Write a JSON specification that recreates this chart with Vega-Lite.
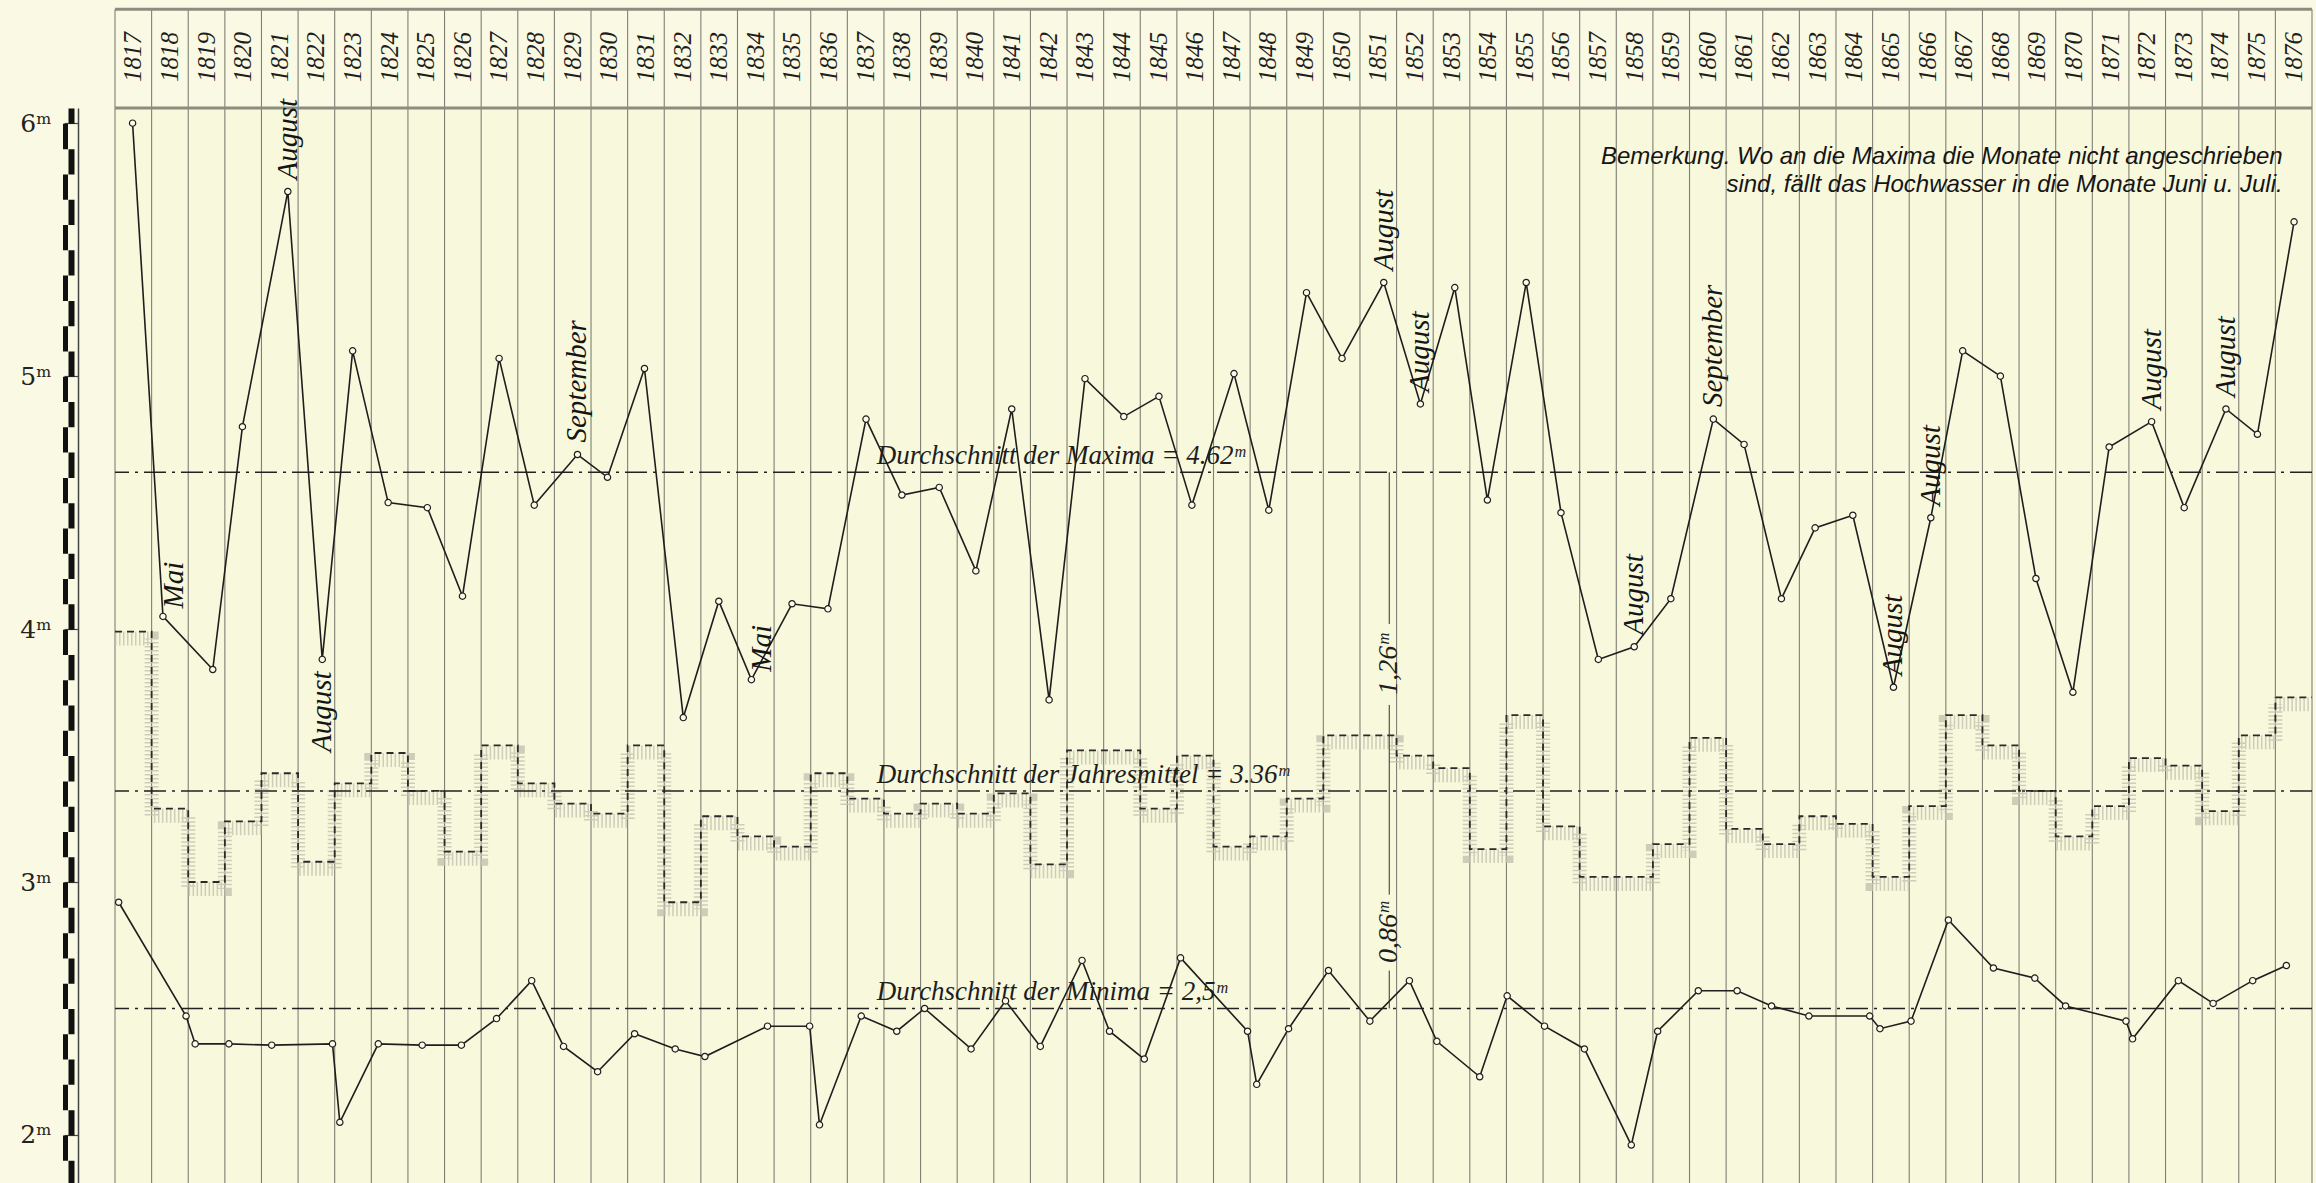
{
  "$schema": "https://vega.github.io/schema/vega-lite/v6.json",
  "description": "Wasserstände 1817-1876: Maxima, Jahresmittel und Minima",
  "width": 2197,
  "height": 1075,
  "autosize": {"type": "none"},
  "padding": {"left": 115, "top": 108, "right": 4, "bottom": 0},
  "background": "#fafae4",
  "config": {
    "view": {"stroke": null, "fill": "#f8f8dc"},
    "font": "Liberation Serif"
  },
  "datasets": {
    "maxima": [
      {"jahr": 1817, "zeit": 1817.48, "max": 6.00},
      {"jahr": 1818, "zeit": 1818.31, "max": 4.05, "monat": "Mai"},
      {"jahr": 1819, "zeit": 1819.67, "max": 3.84},
      {"jahr": 1820, "zeit": 1820.48, "max": 4.80},
      {"jahr": 1821, "zeit": 1821.72, "max": 5.73, "monat": "August"},
      {"jahr": 1822, "zeit": 1822.66, "max": 3.88, "monat": "August"},
      {"jahr": 1823, "zeit": 1823.49, "max": 5.10},
      {"jahr": 1824, "zeit": 1824.46, "max": 4.50},
      {"jahr": 1825, "zeit": 1825.53, "max": 4.48},
      {"jahr": 1826, "zeit": 1826.49, "max": 4.13},
      {"jahr": 1827, "zeit": 1827.49, "max": 5.07},
      {"jahr": 1828, "zeit": 1828.45, "max": 4.49},
      {"jahr": 1829, "zeit": 1829.63, "max": 4.69, "monat": "September"},
      {"jahr": 1830, "zeit": 1830.45, "max": 4.60},
      {"jahr": 1831, "zeit": 1831.46, "max": 5.03},
      {"jahr": 1832, "zeit": 1832.52, "max": 3.65},
      {"jahr": 1833, "zeit": 1833.49, "max": 4.11},
      {"jahr": 1834, "zeit": 1834.38, "max": 3.80, "monat": "Mai"},
      {"jahr": 1835, "zeit": 1835.49, "max": 4.10},
      {"jahr": 1836, "zeit": 1836.47, "max": 4.08},
      {"jahr": 1837, "zeit": 1837.51, "max": 4.83},
      {"jahr": 1838, "zeit": 1838.49, "max": 4.53},
      {"jahr": 1839, "zeit": 1839.51, "max": 4.56},
      {"jahr": 1840, "zeit": 1840.51, "max": 4.23},
      {"jahr": 1841, "zeit": 1841.49, "max": 4.87},
      {"jahr": 1842, "zeit": 1842.51, "max": 3.72},
      {"jahr": 1843, "zeit": 1843.49, "max": 4.99},
      {"jahr": 1844, "zeit": 1844.55, "max": 4.84},
      {"jahr": 1845, "zeit": 1845.51, "max": 4.92},
      {"jahr": 1846, "zeit": 1846.41, "max": 4.49},
      {"jahr": 1847, "zeit": 1847.56, "max": 5.01},
      {"jahr": 1848, "zeit": 1848.51, "max": 4.47},
      {"jahr": 1849, "zeit": 1849.54, "max": 5.33},
      {"jahr": 1850, "zeit": 1850.51, "max": 5.07},
      {"jahr": 1851, "zeit": 1851.65, "max": 5.37, "monat": "August"},
      {"jahr": 1852, "zeit": 1852.65, "max": 4.89, "monat": "August"},
      {"jahr": 1853, "zeit": 1853.59, "max": 5.35},
      {"jahr": 1854, "zeit": 1854.48, "max": 4.51},
      {"jahr": 1855, "zeit": 1855.54, "max": 5.37},
      {"jahr": 1856, "zeit": 1856.49, "max": 4.46},
      {"jahr": 1857, "zeit": 1857.51, "max": 3.88},
      {"jahr": 1858, "zeit": 1858.49, "max": 3.93, "monat": "August"},
      {"jahr": 1859, "zeit": 1859.49, "max": 4.12},
      {"jahr": 1860, "zeit": 1860.65, "max": 4.83, "monat": "September"},
      {"jahr": 1861, "zeit": 1861.49, "max": 4.73},
      {"jahr": 1862, "zeit": 1862.51, "max": 4.12},
      {"jahr": 1863, "zeit": 1863.43, "max": 4.40},
      {"jahr": 1864, "zeit": 1864.46, "max": 4.45},
      {"jahr": 1865, "zeit": 1865.57, "max": 3.77, "monat": "August"},
      {"jahr": 1866, "zeit": 1866.59, "max": 4.44, "monat": "August"},
      {"jahr": 1867, "zeit": 1867.46, "max": 5.10},
      {"jahr": 1868, "zeit": 1868.49, "max": 5.00},
      {"jahr": 1869, "zeit": 1869.46, "max": 4.20},
      {"jahr": 1870, "zeit": 1870.47, "max": 3.75},
      {"jahr": 1871, "zeit": 1871.46, "max": 4.72},
      {"jahr": 1872, "zeit": 1872.62, "max": 4.82, "monat": "August"},
      {"jahr": 1873, "zeit": 1873.51, "max": 4.48},
      {"jahr": 1874, "zeit": 1874.65, "max": 4.87, "monat": "August"},
      {"jahr": 1875, "zeit": 1875.51, "max": 4.77},
      {"jahr": 1876, "zeit": 1876.51, "max": 5.61}
    ],
    "minima": [
      {"jahr": 1817, "zeit": 1817.10, "min": 2.92},
      {"jahr": 1818, "zeit": 1818.94, "min": 2.47},
      {"jahr": 1819, "zeit": 1819.19, "min": 2.36},
      {"jahr": 1820, "zeit": 1820.11, "min": 2.36},
      {"jahr": 1821, "zeit": 1821.28, "min": 2.355},
      {"jahr": 1822, "zeit": 1822.94, "min": 2.36},
      {"jahr": 1823, "zeit": 1823.14, "min": 2.05},
      {"jahr": 1824, "zeit": 1824.19, "min": 2.36},
      {"jahr": 1825, "zeit": 1825.39, "min": 2.355},
      {"jahr": 1826, "zeit": 1826.46, "min": 2.355},
      {"jahr": 1827, "zeit": 1827.42, "min": 2.46},
      {"jahr": 1828, "zeit": 1828.38, "min": 2.61},
      {"jahr": 1829, "zeit": 1829.25, "min": 2.35},
      {"jahr": 1830, "zeit": 1830.18, "min": 2.25},
      {"jahr": 1831, "zeit": 1831.19, "min": 2.40},
      {"jahr": 1832, "zeit": 1832.30, "min": 2.34},
      {"jahr": 1833, "zeit": 1833.11, "min": 2.31},
      {"jahr": 1834, "zeit": 1834.82, "min": 2.43},
      {"jahr": 1835, "zeit": 1835.97, "min": 2.43},
      {"jahr": 1836, "zeit": 1836.24, "min": 2.04},
      {"jahr": 1837, "zeit": 1837.38, "min": 2.47},
      {"jahr": 1838, "zeit": 1838.35, "min": 2.41},
      {"jahr": 1839, "zeit": 1839.11, "min": 2.50},
      {"jahr": 1840, "zeit": 1840.38, "min": 2.34},
      {"jahr": 1841, "zeit": 1841.32, "min": 2.53},
      {"jahr": 1842, "zeit": 1842.27, "min": 2.35},
      {"jahr": 1843, "zeit": 1843.41, "min": 2.69},
      {"jahr": 1844, "zeit": 1844.16, "min": 2.41},
      {"jahr": 1845, "zeit": 1845.11, "min": 2.30},
      {"jahr": 1846, "zeit": 1846.10, "min": 2.70},
      {"jahr": 1847, "zeit": 1847.93, "min": 2.41},
      {"jahr": 1848, "zeit": 1848.18, "min": 2.20},
      {"jahr": 1849, "zeit": 1849.05, "min": 2.42},
      {"jahr": 1850, "zeit": 1850.14, "min": 2.65},
      {"jahr": 1851, "zeit": 1851.27, "min": 2.45},
      {"jahr": 1852, "zeit": 1852.35, "min": 2.61},
      {"jahr": 1853, "zeit": 1853.10, "min": 2.37},
      {"jahr": 1854, "zeit": 1854.27, "min": 2.23},
      {"jahr": 1855, "zeit": 1855.02, "min": 2.55},
      {"jahr": 1856, "zeit": 1856.04, "min": 2.43},
      {"jahr": 1857, "zeit": 1857.13, "min": 2.34},
      {"jahr": 1858, "zeit": 1858.41, "min": 1.96},
      {"jahr": 1859, "zeit": 1859.13, "min": 2.41},
      {"jahr": 1860, "zeit": 1860.24, "min": 2.57},
      {"jahr": 1861, "zeit": 1861.30, "min": 2.57},
      {"jahr": 1862, "zeit": 1862.24, "min": 2.51},
      {"jahr": 1863, "zeit": 1863.26, "min": 2.47},
      {"jahr": 1864, "zeit": 1864.92, "min": 2.47},
      {"jahr": 1865, "zeit": 1865.20, "min": 2.42},
      {"jahr": 1866, "zeit": 1866.05, "min": 2.45},
      {"jahr": 1867, "zeit": 1867.07, "min": 2.85},
      {"jahr": 1868, "zeit": 1868.30, "min": 2.66},
      {"jahr": 1869, "zeit": 1869.43, "min": 2.62},
      {"jahr": 1870, "zeit": 1870.27, "min": 2.51},
      {"jahr": 1871, "zeit": 1871.92, "min": 2.45},
      {"jahr": 1872, "zeit": 1872.10, "min": 2.38},
      {"jahr": 1873, "zeit": 1873.35, "min": 2.61},
      {"jahr": 1874, "zeit": 1874.30, "min": 2.52},
      {"jahr": 1875, "zeit": 1875.38, "min": 2.61},
      {"jahr": 1876, "zeit": 1876.30, "min": 2.67}
    ],
    "jahresmittel": [
      {"jahr": 1817, "mittel": 3.99}, {"jahr": 1818, "mittel": 3.29},
      {"jahr": 1819, "mittel": 3.00}, {"jahr": 1820, "mittel": 3.24},
      {"jahr": 1821, "mittel": 3.43}, {"jahr": 1822, "mittel": 3.08},
      {"jahr": 1823, "mittel": 3.39}, {"jahr": 1824, "mittel": 3.51},
      {"jahr": 1825, "mittel": 3.36}, {"jahr": 1826, "mittel": 3.12},
      {"jahr": 1827, "mittel": 3.54}, {"jahr": 1828, "mittel": 3.39},
      {"jahr": 1829, "mittel": 3.31}, {"jahr": 1830, "mittel": 3.27},
      {"jahr": 1831, "mittel": 3.54}, {"jahr": 1832, "mittel": 2.92},
      {"jahr": 1833, "mittel": 3.26}, {"jahr": 1834, "mittel": 3.18},
      {"jahr": 1835, "mittel": 3.14}, {"jahr": 1836, "mittel": 3.43},
      {"jahr": 1837, "mittel": 3.33}, {"jahr": 1838, "mittel": 3.27},
      {"jahr": 1839, "mittel": 3.31}, {"jahr": 1840, "mittel": 3.27},
      {"jahr": 1841, "mittel": 3.35}, {"jahr": 1842, "mittel": 3.07},
      {"jahr": 1843, "mittel": 3.52}, {"jahr": 1844, "mittel": 3.52},
      {"jahr": 1845, "mittel": 3.29}, {"jahr": 1846, "mittel": 3.50},
      {"jahr": 1847, "mittel": 3.14}, {"jahr": 1848, "mittel": 3.18},
      {"jahr": 1849, "mittel": 3.33}, {"jahr": 1850, "mittel": 3.58},
      {"jahr": 1851, "mittel": 3.58}, {"jahr": 1852, "mittel": 3.50},
      {"jahr": 1853, "mittel": 3.45}, {"jahr": 1854, "mittel": 3.13},
      {"jahr": 1855, "mittel": 3.66}, {"jahr": 1856, "mittel": 3.22},
      {"jahr": 1857, "mittel": 3.02}, {"jahr": 1858, "mittel": 3.02},
      {"jahr": 1859, "mittel": 3.15}, {"jahr": 1860, "mittel": 3.57},
      {"jahr": 1861, "mittel": 3.21}, {"jahr": 1862, "mittel": 3.15},
      {"jahr": 1863, "mittel": 3.26}, {"jahr": 1864, "mittel": 3.23},
      {"jahr": 1865, "mittel": 3.02}, {"jahr": 1866, "mittel": 3.30},
      {"jahr": 1867, "mittel": 3.66}, {"jahr": 1868, "mittel": 3.54},
      {"jahr": 1869, "mittel": 3.36}, {"jahr": 1870, "mittel": 3.18},
      {"jahr": 1871, "mittel": 3.30}, {"jahr": 1872, "mittel": 3.49},
      {"jahr": 1873, "mittel": 3.46}, {"jahr": 1874, "mittel": 3.28},
      {"jahr": 1875, "mittel": 3.58}, {"jahr": 1876, "mittel": 3.73}
    ],
    "durchschnitte": [
      {"reihe": "Maxima", "wert": 4.62, "text": "Durchschnitt der Maxima = 4.62ᵐ"},
      {"reihe": "Jahresmittel", "wert": 3.36, "text": "Durchschnitt der Jahresmittel = 3.36ᵐ"},
      {"reihe": "Minima", "wert": 2.50, "text": "Durchschnitt der Minima = 2,5ᵐ"}
    ],
    "eins": [{}]
  },
  "resolve": {"axis": {"y": "independent"}},
  "layer": [
    {
      "data": {"name": "jahresmittel"},
      "mark": {"type": "rule", "color": "#7f7f74", "strokeWidth": 1.1},
      "encoding": {
        "x": {"field": "jahr", "type": "quantitative", "scale": {"domain": [1817, 1877], "nice": false, "zero": false}, "axis": null},
        "y": {"datum": 6.45, "type": "quantitative", "scale": {"domain": [1.81, 6.06], "nice": false, "zero": false}, "axis": null},
        "y2": {"datum": 1.81}
      }
    },
    {
      "data": {"name": "eins"},
      "mark": {"type": "rule", "color": "#7f7f74", "strokeWidth": 1.1},
      "encoding": {
        "x": {"datum": 1877, "type": "quantitative", "axis": null},
        "y": {"datum": 6.45, "type": "quantitative", "axis": null},
        "y2": {"datum": 1.81}
      }
    },
    {
      "data": {"name": "eins"},
      "mark": {"type": "rule", "color": "#8c8c80", "strokeWidth": 3},
      "encoding": {
        "y": {"datum": 6.45, "type": "quantitative", "axis": null}
      }
    },
    {
      "data": {"name": "eins"},
      "mark": {"type": "rule", "color": "#8c8c80", "strokeWidth": 3},
      "encoding": {
        "y": {"datum": 6.06, "type": "quantitative", "axis": null}
      }
    },
    {
      "data": {"name": "jahresmittel"},
      "mark": {"type": "text", "angle": 270, "align": "center", "baseline": "middle", "dy": 18.3, "font": "Liberation Serif", "fontStyle": "italic", "fontSize": 25, "color": "#1e1e1e"},
      "encoding": {
        "x": {"field": "jahr", "type": "quantitative", "axis": null},
        "y": {"datum": 6.262, "type": "quantitative", "axis": null},
        "text": {"field": "jahr", "type": "nominal"}
      }
    },
    {
      "data": {"name": "jahresmittel"},
      "mark": {"type": "line", "interpolate": "step-after", "color": "#c2c2b0", "strokeWidth": 14, "strokeDash": [1.5, 2.5], "yOffset": 7, "opacity": 0.8},
      "encoding": {
        "x": {"field": "jahr", "type": "quantitative", "axis": null},
        "y": {"field": "mittel", "type": "quantitative", "axis": null}
      }
    },
    {
      "data": {"name": "jahresmittel"},
      "transform": [{"filter": "datum.jahr == 1876"}],
      "mark": {"type": "rule", "color": "#c2c2b0", "strokeWidth": 14, "strokeDash": [1.5, 2.5], "yOffset": 7, "opacity": 0.8},
      "encoding": {
        "x": {"field": "jahr", "type": "quantitative", "axis": null},
        "x2": {"datum": 1877},
        "y": {"field": "mittel", "type": "quantitative", "axis": null}
      }
    },
    {
      "data": {"name": "jahresmittel"},
      "mark": {"type": "line", "interpolate": "step-after", "color": "#2a2a2a", "strokeWidth": 1.8, "strokeDash": [7, 5]},
      "encoding": {
        "x": {"field": "jahr", "type": "quantitative", "axis": null},
        "y": {"field": "mittel", "type": "quantitative", "axis": null}
      }
    },
    {
      "data": {"name": "jahresmittel"},
      "transform": [{"filter": "datum.jahr == 1876"}],
      "mark": {"type": "rule", "color": "#2a2a2a", "strokeWidth": 1.8, "strokeDash": [7, 5]},
      "encoding": {
        "x": {"field": "jahr", "type": "quantitative", "axis": null},
        "x2": {"datum": 1877},
        "y": {"field": "mittel", "type": "quantitative", "axis": null}
      }
    },
    {
      "data": {"name": "durchschnitte"},
      "mark": {"type": "rule", "color": "#222", "strokeWidth": 1.6, "strokeDash": [22, 6, 3, 6]},
      "encoding": {
        "y": {"field": "wert", "type": "quantitative", "axis": null}
      }
    },
    {
      "data": {"name": "durchschnitte"},
      "mark": {"type": "text", "align": "left", "baseline": "alphabetic", "dy": -8, "font": "Liberation Serif", "fontStyle": "italic", "fontSize": 27, "color": "#1e1e1e"},
      "encoding": {
        "x": {"datum": 1837.8, "type": "quantitative", "axis": null},
        "y": {"field": "wert", "type": "quantitative", "axis": null},
        "text": {"field": "text"}
      }
    },
    {
      "data": {"name": "maxima"},
      "mark": {"type": "line", "color": "#1e1e1e", "strokeWidth": 1.6},
      "encoding": {
        "x": {"field": "zeit", "type": "quantitative", "axis": null},
        "y": {
          "field": "max", "type": "quantitative",
          "axis": {
            "orient": "left", "offset": 37, "title": null, "grid": false,
            "values": [2, 3, 4, 5, 6],
            "domainColor": "#444", "domainWidth": 1.5,
            "tickSize": 14, "tickColor": "#444", "tickWidth": 1.2,
            "labelPadding": 13, "labelFont": "DejaVu Serif", "labelFontSize": 25, "labelColor": "#222",
            "labelExpr": "datum.value + 'ᵐ'", "labelBound": false, "labelFlush": false
          }
        }
      }
    },
    {
      "data": {"name": "maxima"},
      "mark": {"type": "point", "shape": "circle", "filled": true, "fill": "#fbfbe8", "stroke": "#1e1e1e", "strokeWidth": 1.2, "size": 40, "opacity": 1},
      "encoding": {
        "x": {"field": "zeit", "type": "quantitative", "axis": null},
        "y": {
          "field": "max", "type": "quantitative",
          "axis": {
            "orient": "left", "offset": 44, "title": null, "grid": false,
            "ticks": false, "labels": false,
            "domainColor": "#111", "domainWidth": 6, "domainDash": [25.29, 25.29], "domainDashOffset": 2.53
          }
        }
      }
    },
    {
      "data": {"name": "minima"},
      "mark": {"type": "line", "color": "#1e1e1e", "strokeWidth": 1.6},
      "encoding": {
        "x": {"field": "zeit", "type": "quantitative", "axis": null},
        "y": {
          "field": "min", "type": "quantitative",
          "axis": {
            "orient": "left", "offset": 50, "title": null, "grid": false,
            "ticks": false, "labels": false,
            "domainColor": "#111", "domainWidth": 5, "domainDash": [25.29, 25.29], "domainDashOffset": 27.82
          }
        }
      }
    },
    {
      "data": {"name": "minima"},
      "mark": {"type": "point", "shape": "circle", "filled": true, "fill": "#fbfbe8", "stroke": "#1e1e1e", "strokeWidth": 1.2, "size": 40, "opacity": 1},
      "encoding": {
        "x": {"field": "zeit", "type": "quantitative", "axis": null},
        "y": {"field": "min", "type": "quantitative", "axis": null}
      }
    },
    {
      "data": {"name": "maxima"},
      "transform": [{"filter": "datum.monat != null && datum.monat != 'Mai' && datum.jahr != 1822"}],
      "mark": {"type": "text", "angle": 270, "align": "left", "baseline": "middle", "dx": 12, "font": "Liberation Serif", "fontStyle": "italic", "fontSize": 29, "color": "#151515"},
      "encoding": {
        "x": {"field": "zeit", "type": "quantitative", "axis": null},
        "y": {"field": "max", "type": "quantitative", "axis": null},
        "text": {"field": "monat"}
      }
    },
    {
      "data": {"name": "maxima"},
      "transform": [{"filter": "datum.jahr == 1822"}],
      "mark": {"type": "text", "angle": 270, "align": "right", "baseline": "middle", "dx": -12, "font": "Liberation Serif", "fontStyle": "italic", "fontSize": 29, "color": "#151515"},
      "encoding": {
        "x": {"field": "zeit", "type": "quantitative", "axis": null},
        "y": {"field": "max", "type": "quantitative", "axis": null},
        "text": {"field": "monat"}
      }
    },
    {
      "data": {"name": "maxima"},
      "transform": [{"filter": "datum.monat == 'Mai'"}],
      "mark": {"type": "text", "angle": 270, "align": "left", "baseline": "middle", "dx": 8, "dy": 11, "font": "Liberation Serif", "fontStyle": "italic", "fontSize": 29, "color": "#151515"},
      "encoding": {
        "x": {"field": "zeit", "type": "quantitative", "axis": null},
        "y": {"field": "max", "type": "quantitative", "axis": null},
        "text": {"field": "monat"}
      }
    },
    {
      "data": {"name": "eins"},
      "mark": {"type": "rule", "color": "#333", "strokeWidth": 1},
      "encoding": {
        "x": {"datum": 1851.8, "type": "quantitative", "axis": null},
        "y": {"datum": 4.62, "type": "quantitative", "axis": null},
        "y2": {"datum": 4.02}
      }
    },
    {
      "data": {"name": "eins"},
      "mark": {"type": "rule", "color": "#333", "strokeWidth": 1},
      "encoding": {
        "x": {"datum": 1851.8, "type": "quantitative", "axis": null},
        "y": {"datum": 3.70, "type": "quantitative", "axis": null},
        "y2": {"datum": 3.36}
      }
    },
    {
      "data": {"name": "eins"},
      "mark": {"type": "text", "angle": 270, "align": "center", "baseline": "middle", "font": "Liberation Serif", "fontStyle": "italic", "fontSize": 28, "color": "#1e1e1e"},
      "encoding": {
        "x": {"datum": 1851.8, "type": "quantitative", "axis": null},
        "y": {"datum": 3.86, "type": "quantitative", "axis": null},
        "text": {"value": "1,26ᵐ"}
      }
    },
    {
      "data": {"name": "eins"},
      "mark": {"type": "rule", "color": "#333", "strokeWidth": 1},
      "encoding": {
        "x": {"datum": 1851.8, "type": "quantitative", "axis": null},
        "y": {"datum": 3.36, "type": "quantitative", "axis": null},
        "y2": {"datum": 2.95}
      }
    },
    {
      "data": {"name": "eins"},
      "mark": {"type": "rule", "color": "#333", "strokeWidth": 1},
      "encoding": {
        "x": {"datum": 1851.8, "type": "quantitative", "axis": null},
        "y": {"datum": 2.65, "type": "quantitative", "axis": null},
        "y2": {"datum": 2.5}
      }
    },
    {
      "data": {"name": "eins"},
      "mark": {"type": "text", "angle": 270, "align": "center", "baseline": "middle", "font": "Liberation Serif", "fontStyle": "italic", "fontSize": 28, "color": "#1e1e1e"},
      "encoding": {
        "x": {"datum": 1851.8, "type": "quantitative", "axis": null},
        "y": {"datum": 2.80, "type": "quantitative", "axis": null},
        "text": {"value": "0,86ᵐ"}
      }
    },
    {
      "data": {"name": "eins"},
      "mark": {"type": "text", "align": "right", "baseline": "alphabetic", "lineHeight": 28, "font": "Liberation Sans", "fontStyle": "italic", "fontSize": 24, "color": "#151515"},
      "encoding": {
        "x": {"datum": 1876.2, "type": "quantitative", "axis": null},
        "y": {"datum": 5.84, "type": "quantitative", "axis": null},
        "text": {"value": ["Bemerkung. Wo an die Maxima die Monate nicht angeschrieben", "sind, fällt das Hochwasser in die Monate Juni u. Juli."]}
      }
    }
  ]
}
